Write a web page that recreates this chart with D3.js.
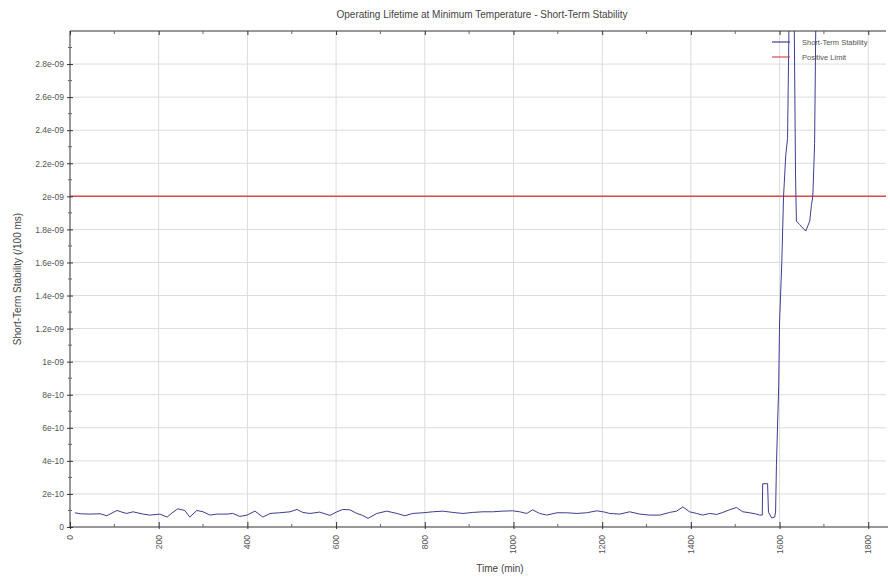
<!DOCTYPE html>
<html>
<head>
<meta charset="utf-8">
<script src="https://cdn.jsdelivr.net/npm/d3@7"></script>
<style>
  body { margin: 0; background: #fff; }
  svg { font-family: "Liberation Sans", Arial, sans-serif; }
</style>
</head>
<body>
<svg id="chart" width="890" height="578"></svg>
<script>
// time in minutes
let times = [11, 23, 45, 68, 83, 95, 106, 117, 128, 142, 165, 180, 203, 219, 230, 243, 259, 270, 286, 300,
  316, 331, 354, 367, 383, 399, 417, 435, 451, 473, 496, 512, 525, 541, 563, 586, 602, 615, 631, 647,
  660, 672, 692, 714, 737, 755, 773, 796, 818, 841, 863, 886, 908, 931, 953, 976, 998, 1014, 1030, 1043,
  1059, 1075, 1098, 1120, 1143, 1165, 1188, 1206, 1217, 1240, 1262, 1285, 1307, 1330, 1352, 1368, 1382, 1397, 1413, 1427,
  1442, 1458, 1472, 1487, 1503, 1517, 1533, 1548, 1555, 1561, 1562, 1573, 1575, 1582, 1589, 1591, 1593, 1598, 1600, 1605,
  1609, 1614, 1618, 1623, 1632, 1636, 1638, 1645, 1659, 1668, 1672, 1675, 1679, 1683]
// short-term stability, units of 1e-10
let stability = [0.86, 0.80, 0.78, 0.80, 0.68, 0.85, 1.00, 0.90, 0.82, 0.92, 0.78, 0.72, 0.78, 0.60, 0.85, 1.10, 1.00, 0.60, 1.00, 0.92,
  0.72, 0.78, 0.78, 0.82, 0.64, 0.72, 0.96, 0.60, 0.82, 0.86, 0.92, 1.06, 0.88, 0.82, 0.90, 0.70, 0.92, 1.06, 1.04, 0.82,
  0.70, 0.52, 0.82, 0.96, 0.82, 0.68, 0.82, 0.86, 0.92, 0.96, 0.88, 0.82, 0.88, 0.92, 0.92, 0.96, 0.98, 0.92, 0.82, 1.04,
  0.82, 0.72, 0.86, 0.86, 0.82, 0.86, 0.98, 0.90, 0.82, 0.78, 0.92, 0.78, 0.72, 0.72, 0.88, 0.96, 1.22, 0.92, 0.82, 0.72,
  0.82, 0.76, 0.88, 1.04, 1.18, 0.92, 0.86, 0.78, 0.72, 0.72, 2.62, 2.62, 0.90, 0.55, 0.60, 0.90, 3.8, 8.5, 12.4, 16.0,
  20.0, 22.5, 23.5, 34, 34, 21.3, 18.5, 18.3, 17.9, 18.5, 19.5, 20.0, 23.2, 34]
let positiveLimit = 2e-9

let xTicks = [0, 200, 400, 600, 800, 1000, 1200, 1400, 1600, 1800]
let yTicks = [0, 2e-10, 4e-10, 6e-10, 8e-10, 1e-9, 1.2e-9, 1.4e-9, 1.6e-9, 1.8e-9, 2e-9, 2.2e-9, 2.4e-9, 2.6e-9, 2.8e-9]
let legendLabels = ["Short-Term Stability", "Positive Limit"]

let data = times.map((t, i) => ({t: t, v: stability[i] * 1e-10}))

let plotL = 70, plotR = 886, plotT = 31, plotB = 527
let svg = d3.select("#chart")

let x = d3.scaleLinear().domain([0, 1840]).range([plotL, plotR])
let y = d3.scaleLinear().domain([0, 3e-9]).range([plotB, plotT])

function fmt(v) {
  if (v === 0) return "0"
  let s = (+v.toPrecision(2)).toExponential().split("e")
  let e = +s[1]
  return s[0] + "e" + (e < 0 ? "-" : "+") + String(Math.abs(e)).padStart(2, "0")
}

// grid
svg.append("g").selectAll("line").data(xTicks.slice(1)).join("line")
  .attr("x1", d => x(d)).attr("x2", d => x(d))
  .attr("y1", plotT).attr("y2", plotB)
  .attr("stroke", "#dcdcdc").attr("stroke-width", 1)
svg.append("g").selectAll("line").data(yTicks.slice(1)).join("line")
  .attr("x1", plotL).attr("x2", plotR)
  .attr("y1", d => y(d)).attr("y2", d => y(d))
  .attr("stroke", "#dcdcdc").attr("stroke-width", 1)

svg.append("clipPath").attr("id", "clip")
  .append("rect").attr("x", plotL).attr("y", plotT).attr("width", plotR - plotL).attr("height", plotB - plotT)

// limit line
svg.append("line")
  .attr("x1", plotL).attr("x2", plotR)
  .attr("y1", y(positiveLimit)).attr("y2", y(positiveLimit))
  .attr("stroke", "#d94a4a").attr("stroke-width", 1.5)

// series
svg.append("path").datum(data)
  .attr("clip-path", "url(#clip)")
  .attr("fill", "none")
  .attr("stroke", "#3d3d92")
  .attr("stroke-width", 1)
  .attr("d", d3.line().x(d => x(d.t)).y(d => y(d.v)))

// axes
let minorX = d3.range(100, 1840, 200)
let minorY = d3.range(1e-10, 3e-9, 2e-10)

let xAxis = svg.append("g").attr("transform", `translate(0,${plotB})`)
  .call(d3.axisBottom(x).tickValues(xTicks).tickSize(-5).tickFormat(""))
xAxis.select(".domain").attr("stroke", "#333").attr("d", `M${plotL},0H${plotR + 2}`)
xAxis.selectAll(".tick line").attr("stroke", "#333")
xAxis.selectAll(".tick").append("line").attr("y2", 2).attr("stroke", "#333")
svg.append("g").selectAll("line").data(minorX).join("line")
  .attr("x1", d => x(d)).attr("x2", d => x(d))
  .attr("y1", plotB - 3).attr("y2", plotB).attr("stroke", "#666")
svg.append("g").selectAll("text").data(xTicks).join("text")
  .attr("transform", d => `translate(${x(d) + 3},${plotB + 8}) rotate(-90)`)
  .attr("text-anchor", "end")
  .attr("font-size", 8.5).attr("fill", "#555")
  .text(d => d)

let topAxis = svg.append("g").attr("transform", `translate(0,${plotT})`)
  .call(d3.axisTop(x).tickValues(xTicks).tickSize(-4).tickFormat(""))
topAxis.select(".domain").attr("stroke", "#333").attr("d", `M${plotL},0H${plotR}`)
topAxis.selectAll(".tick line").attr("stroke", "#333")
svg.append("g").selectAll("line").data(minorX).join("line")
  .attr("x1", d => x(d)).attr("x2", d => x(d))
  .attr("y1", plotT).attr("y2", plotT + 3).attr("stroke", "#666")

let yAxis = svg.append("g").attr("transform", `translate(${plotL},0)`)
  .call(d3.axisLeft(y).tickValues(yTicks).tickSize(3).tickPadding(3).tickFormat(fmt))
yAxis.select(".domain").attr("stroke", "#333").attr("d", `M0,${plotB}V${plotT}`)
yAxis.selectAll(".tick line").attr("stroke", "#333").attr("x2", 3).attr("x1", -3)
yAxis.selectAll("text").attr("font-size", 8.5).attr("fill", "#555")
  .attr("font-family", "Liberation Sans, Arial, sans-serif")
svg.append("g").selectAll("line").data(minorY).join("line")
  .attr("x1", plotL - 2).attr("x2", plotL + 2)
  .attr("y1", d => y(d)).attr("y2", d => y(d)).attr("stroke", "#666")

// titles
svg.append("text").attr("x", 482).attr("y", 18).attr("text-anchor", "middle")
  .attr("font-size", 10).attr("fill", "#444")
  .text("Operating Lifetime at Minimum Temperature - Short-Term Stability")
svg.append("text").attr("x", 500).attr("y", 572).attr("text-anchor", "middle")
  .attr("font-size", 10).attr("fill", "#444").text("Time (min)")
svg.append("text").attr("transform", `translate(21,${(plotT + plotB) / 2}) rotate(-90)`)
  .attr("text-anchor", "middle").attr("font-size", 10).attr("fill", "#444")
  .text("Short-Term Stability (/100 ms)")

// legend
let legendColors = ["#3d3d92", "#d94a4a"]
let legend = svg.append("g").selectAll("g").data(legendLabels).join("g")
  .attr("transform", (d, i) => `translate(772,${42 + i * 15})`)
legend.append("line").attr("x1", 0).attr("x2", 18)
  .attr("stroke", (d, i) => legendColors[i]).attr("stroke-width", 1.2)
legend.append("text").attr("x", 30).attr("y", 3)
  .attr("font-size", 7.5).attr("fill", "#555").text(d => d)
</script>
</body>
</html>
